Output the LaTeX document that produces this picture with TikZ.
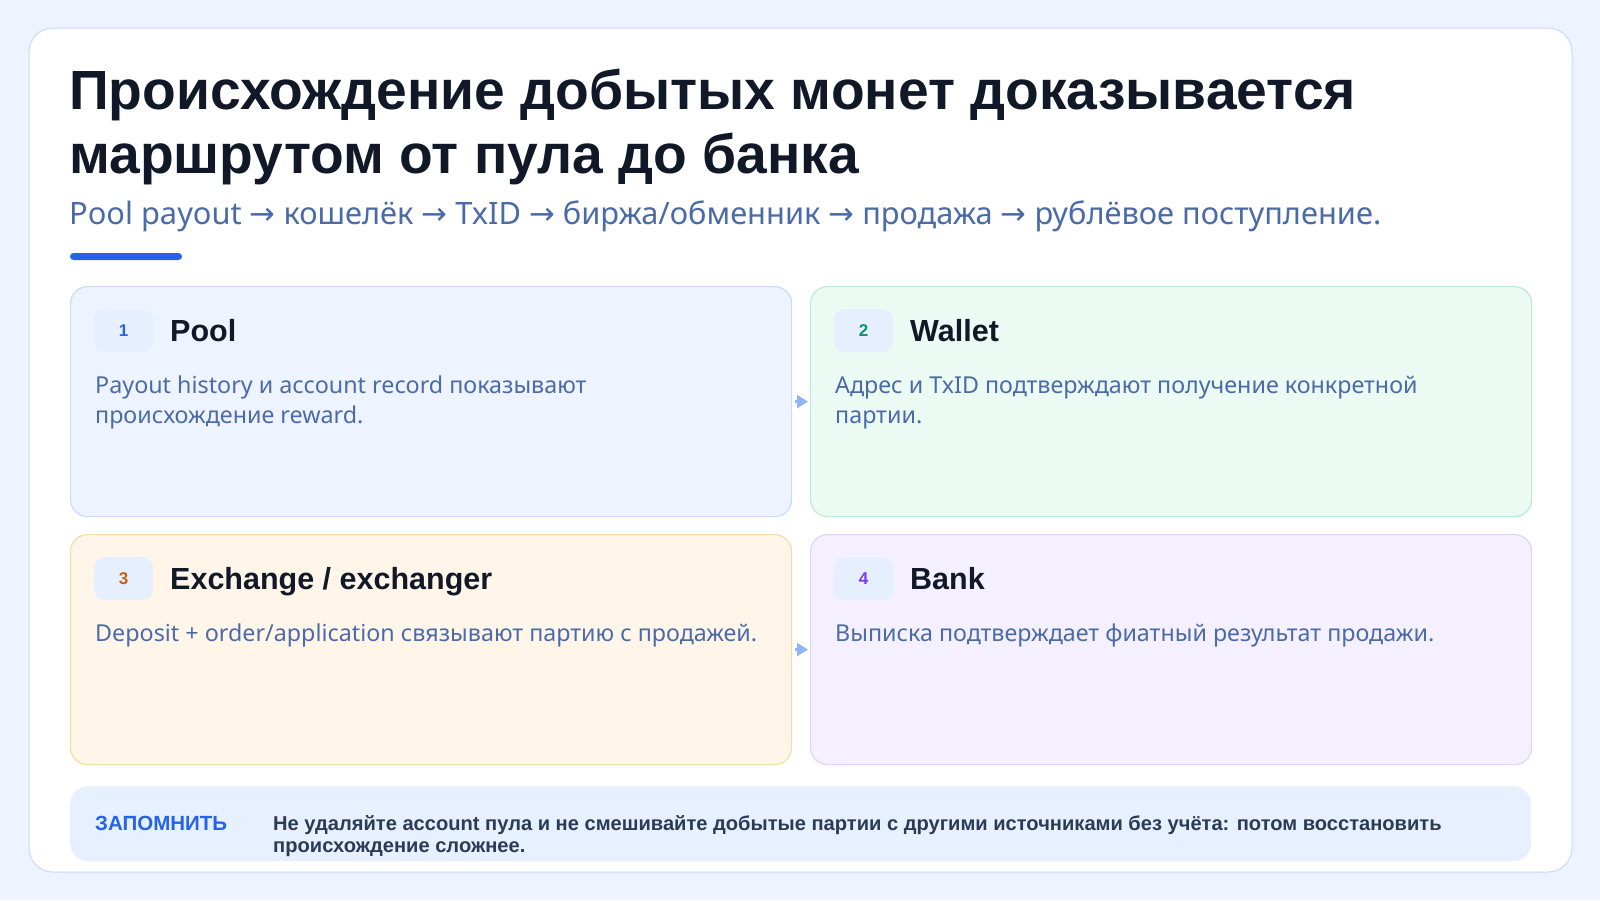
\documentclass[tikz,border=0pt]{standalone}
\usepackage{fontspec}
\setmainfont{Noto Sans}
\newfontfamily\bfam{Liberation Sans}
\newfontfamily\arrfont{DejaVu Sans}
\usetikzlibrary{arrows.meta}
\definecolor{bg}{HTML}{EEF4FF}
\definecolor{cardborder}{HTML}{C6DAFB}
\definecolor{titlec}{HTML}{111827}
\definecolor{subc}{HTML}{4A6AA8}
\definecolor{barc}{HTML}{2563EB}
\definecolor{boxAfill}{HTML}{EEF4FF}
\definecolor{boxAdraw}{HTML}{C8DBFB}
\definecolor{boxBfill}{HTML}{ECFAF4}
\definecolor{boxBdraw}{HTML}{BDEBD3}
\definecolor{boxCfill}{HTML}{FFF6E9}
\definecolor{boxCdraw}{HTML}{F4DDA9}
\definecolor{boxDfill}{HTML}{F5F0FF}
\definecolor{boxDdraw}{HTML}{E0D3FB}
\definecolor{badgec}{HTML}{E6EFFD}
\definecolor{numA}{HTML}{2563EB}
\definecolor{numB}{HTML}{059669}
\definecolor{numC}{HTML}{C2620F}
\definecolor{numD}{HTML}{7C3AED}
\definecolor{notefill}{HTML}{E6F0FE}
\definecolor{notetext}{HTML}{2B3A57}
\definecolor{arrowc}{HTML}{8FB5F7}
\newcommand{\arr}{{\arrfont →}}
\newcommand{\tstrut}[1]{\rule{0pt}{#1}}
\tikzset{
  card/.style={rounded corners=24pt, fill=white, draw=cardborder, line width=1pt},
  stepbox/.style={rounded corners=17pt, line width=1.2pt, minimum width=721pt, minimum height=230pt, anchor=north west, inner sep=0pt},
  badge/.style={rounded corners=10pt, fill=badgec, minimum width=59pt, minimum height=43pt, anchor=north west, inner sep=0pt, font=\fontsize{17}{17}\selectfont\bfam\bfseries},
  heading/.style={anchor=base west, inner sep=0pt, text=titlec, font=\fontsize{30.5}{34}\selectfont\bfam\bfseries},
  bodytxt/.style={anchor=north west, inner sep=0pt, align=left, text=subc, font=\fontsize{23.3}{30}\selectfont},
  flow/.style={draw=arrowc, line width=2.5pt, -{Triangle[length=11pt,width=13pt]}, shorten <=3pt, shorten >=2pt},
  notebox/.style={rounded corners=18pt, fill=notefill, minimum width=1461pt, minimum height=75pt, anchor=north west, inner sep=0pt}
}
\begin{document}
\begin{tikzpicture}[x=1pt,y=-1pt]
\useasboundingbox (0,0) rectangle (1600,900);
\fill[bg] (0,0) rectangle (1600,900);
\draw[card] (29,28) rectangle (1572,872);

\node[anchor=north west, inner sep=0pt, align=left, text=titlec, font=\fontsize{55.2}{64}\selectfont\bfam\bfseries] (title) at (69,53)
  {\tstrut{56pt}Происхождение добытых монет доказывается\\маршрутом от пула до банка};
\node[anchor=base west, inner sep=0pt, text=subc, font=\fontsize{30.8}{34}\selectfont] (subtitle) at (69,224)
  {Pool payout \arr{} кошелёк \arr{} TxID \arr{} биржа/обменник \arr{} продажа \arr{} рублёвое поступление.};
\fill[barc, rounded corners=3.5pt] (70,253) rectangle (182,260);

% step boxes
\node[stepbox, fill=boxAfill, draw=boxAdraw] (pool) at (70,286) {};
\node[stepbox, fill=boxBfill, draw=boxBdraw] (wallet) at (810,286) {};
\node[stepbox, fill=boxCfill, draw=boxCdraw] (exch) at (70,534) {};
\node[stepbox, fill=boxDfill, draw=boxDdraw] (bank) at (810,534) {};

\node[badge, text=numA] (b1) at (94,309) {1};
\node[badge, text=numB] (b2) at (834,309) {2};
\node[badge, text=numC] (b3) at (94,557) {3};
\node[badge, text=numD] (b4) at (834,557) {4};

\node[heading] (h1) at (170,341) {Pool};
\node[heading] (h2) at (910,341) {Wallet};
\node[heading] (h3) at (170,589) {Exchange / exchanger};
\node[heading] (h4) at (910,589) {Bank};

\node[bodytxt] (t1) at (95,369) {\tstrut{24pt}Payout history и account record показывают\\происхождение reward.};
\node[bodytxt] (t2) at (835,369) {\tstrut{24pt}Адрес и TxID подтверждают получение конкретной\\партии.};
\node[bodytxt] (t3) at (95,617) {\tstrut{24pt}Deposit + order/application связывают партию с продажей.};
\node[bodytxt] (t4) at (835,617) {\tstrut{24pt}Выписка подтверждает фиатный результат продажи.};

\draw[flow] (pool.east) -- (wallet.west);
\draw[flow] (exch.east) -- (bank.west);

% note
\node[notebox] (note) at (70,786) {};
\node[anchor=base west, inner sep=0pt, text=barc, font=\fontsize{20.5}{22}\selectfont\bfam\bfseries] (notelabel) at (95,830) {ЗАПОМНИТЬ};
\node[anchor=north west, inner sep=0pt, align=left, text=notetext, font=\fontsize{20.1}{22}\selectfont\bfam\bfseries] (notetxt) at (273,810)
  {\tstrut{20pt}Не удаляйте account пула и не смешивайте добытые партии с другими источниками без учёта: потом восстановить\\происхождение сложнее.};
\end{tikzpicture}
\end{document}
